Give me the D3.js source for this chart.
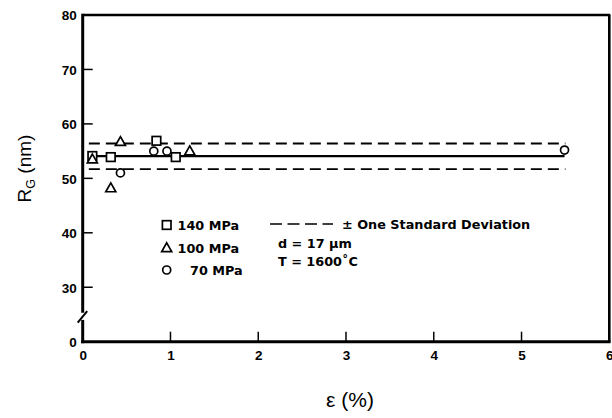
<!DOCTYPE html>
<html>
<head>
<meta charset="utf-8">
<script src="https://cdn.jsdelivr.net/npm/d3@7"></script>
<style>
  html, body { margin: 0; padding: 0; background: #fff; }
  svg { display: block; }
  text { font-family: "Liberation Sans", Arial, Helvetica, sans-serif; fill: #000; }
</style>
</head>
<body>
<svg id="chart" width="612" height="418"></svg>
<script>
// ---- data ----
const seriesNames = ["140 MPa", "100 MPa", "70 MPa"];
const seriesSymbols = ["square", "triangle", "circle"];
const strain140 = [0.11, 0.32, 0.84, 1.06];
const rg140     = [54.1, 53.9, 56.9, 53.9];
const strain100 = [0.11, 0.43, 0.32, 1.22];
const rg100     = [53.5, 56.7, 48.2, 55.0];
const strain70  = [0.43, 0.81, 0.96, 5.49];
const rg70      = [51.0, 55.0, 55.0, 55.2];
const meanRG = 54.1;
const sdUpper = 56.4;
const sdLower = 51.7;
const fitRange = [0.11, 5.49];
const sdRange = [0.07, 5.5];
const xTicks = [0, 1, 2, 3, 4, 5, 6];
const yTicks = [20, 30, 40, 50, 60, 70, 80];           // 20 sits at broken-axis origin
const yTickLabels = ["0", "30", "40", "50", "60", "70", "80"];
const legendNotes = ["± One Standard Deviation", "d = 17 µm", "T = 1600˚C"];

// ---- layout ----
const svg = d3.select("#chart");
const L = 82.7, R = 609.3, T = 15, B = 341.7;
const x = d3.scaleLinear().domain([0, 6]).range([L, R]);
const y = d3.scaleLinear().domain([20, 80]).range([B, T]);

// frame (top & right)
svg.append("line").attr("x1", L).attr("x2", R + 1).attr("y1", T).attr("y2", T)
  .attr("stroke", "#000").attr("stroke-width", 2.6);
svg.append("line").attr("x1", R).attr("x2", R).attr("y1", T).attr("y2", B)
  .attr("stroke", "#000").attr("stroke-width", 2.6);

// bottom axis
const xAxis = d3.axisBottom(x).tickValues(xTicks).tickSize(0).tickPadding(0)
  .tickFormat(d3.format("d"));
const gx = svg.append("g").attr("transform", `translate(0,${B})`).call(xAxis);
gx.select(".domain").remove();
gx.selectAll("text").attr("dy", 0).attr("y", 18.5)
  .style("font-size", "13.5px").style("font-weight", "bold")
  .style("font-family", "'Liberation Sans', Arial, sans-serif");
svg.append("line").attr("x1", L - 1.5).attr("x2", R + 1.3).attr("y1", B).attr("y2", B)
  .attr("stroke", "#000").attr("stroke-width", 3);
svg.selectAll(".xtick").data(xTicks.slice(1, -1)).enter().append("line")
  .attr("class", "xtick")
  .attr("x1", d => x(d)).attr("x2", d => x(d)).attr("y1", B).attr("y2", B - 10)
  .attr("stroke", "#000").attr("stroke-width", 1.5);

// left axis (broken between "0" and 30)
const yAxis = d3.axisLeft(y).tickValues(yTicks).tickSize(0).tickPadding(6)
  .tickFormat((d, i) => yTickLabels[i]);
const gy = svg.append("g").attr("transform", `translate(${L},0)`).call(yAxis);
gy.select(".domain").remove();
gy.selectAll("text").attr("dy", "0.36em")
  .style("font-size", "13.5px").style("font-weight", "bold")
  .style("font-family", "'Liberation Sans', Arial, sans-serif");
svg.append("line").attr("x1", L).attr("x2", L).attr("y1", T - 1.3).attr("y2", y(25.3))
  .attr("stroke", "#000").attr("stroke-width", 3);
svg.append("line").attr("x1", L).attr("x2", L).attr("y1", y(24.0)).attr("y2", B + 1.5)
  .attr("stroke", "#000").attr("stroke-width", 3);
svg.append("line").attr("x1", L - 5).attr("x2", L + 4.5).attr("y1", y(23.5)).attr("y2", y(25.6))
  .attr("stroke", "#000").attr("stroke-width", 2);
svg.selectAll(".ytick").data(yTicks.slice(1, -1)).enter().append("line")
  .attr("class", "ytick")
  .attr("x1", L).attr("x2", L + 10).attr("y1", d => y(d)).attr("y2", d => y(d))
  .attr("stroke", "#000").attr("stroke-width", 1.5);

// axis titles
const yl = svg.append("text")
  .attr("transform", `translate(31,${(133 + 204) / 2}) rotate(-90)`)
  .attr("text-anchor", "middle").style("font-size", "19px");
yl.append("tspan").text("R");
yl.append("tspan").text("G").attr("dy", 4).style("font-size", "12.5px");
yl.append("tspan").text(" (nm)").attr("dy", -4);
svg.append("text").attr("x", 350).attr("y", 407).attr("text-anchor", "middle")
  .style("font-size", "21px").text("ε (%)");

// SD dashed lines & mean line
const dashStyle = "11,6";
[sdUpper, sdLower].forEach(v => {
  svg.append("line").attr("x1", x(sdRange[0])).attr("x2", x(sdRange[1]))
    .attr("y1", y(v)).attr("y2", y(v))
    .attr("stroke", "#000").attr("stroke-width", 1.8).attr("stroke-dasharray", dashStyle);
});
svg.append("line").attr("x1", x(fitRange[0])).attr("x2", x(fitRange[1]))
  .attr("y1", y(meanRG)).attr("y2", y(meanRG))
  .attr("stroke", "#000").attr("stroke-width", 2.2);

// markers
function drawSymbol(g, type, cx, cy) {
  if (type === "square") {
    g.append("rect").attr("x", cx - 4.3).attr("y", cy - 4.3).attr("width", 8.6).attr("height", 8.6)
      .attr("fill", "#fff").attr("stroke", "#000").attr("stroke-width", 1.7);
  } else if (type === "triangle") {
    g.append("path").attr("d", `M${cx},${cy - 5.2}L${cx + 5},${cy + 3.6}L${cx - 5},${cy + 3.6}Z`)
      .attr("fill", "#fff").attr("stroke", "#000").attr("stroke-width", 1.7);
  } else {
    g.append("circle").attr("cx", cx).attr("cy", cy).attr("r", 4)
      .attr("fill", "#fff").attr("stroke", "#000").attr("stroke-width", 1.7);
  }
}
const allSeries = [[strain140, rg140], [strain100, rg100], [strain70, rg70]];
const gm = svg.append("g");
allSeries.forEach((s, si) => {
  s[0].forEach((xv, i) => drawSymbol(gm, seriesSymbols[si], x(xv), y(s[1][i])));
});

// legend
const lg = svg.append("g").style("font-size", "12.8px").style("font-weight", "bold")
  .style("font-family", "'DejaVu Sans', sans-serif");
const legY = [225, 248, 270];
seriesNames.forEach((n, i) => {
  drawSymbol(lg, seriesSymbols[i], 166.7, legY[i]);
  lg.append("text").attr("x", i === 2 ? 190 : 177.5).attr("y", legY[i] + 4.5)
    .style("font-family", "'DejaVu Sans', sans-serif").text(n);
});
lg.append("line").attr("x1", 270).attr("x2", 333).attr("y1", 224).attr("y2", 224)
  .attr("stroke", "#000").attr("stroke-width", 1.6).attr("stroke-dasharray", "12,5.5");
lg.selectAll(".note").data(legendNotes).enter().append("text")
  .attr("class", "note")
  .style("font-family", "'DejaVu Sans', sans-serif")
  .attr("x", (d, i) => i === 0 ? 342 : 278)
  .attr("y", (d, i) => [228.5, 247.5, 266][i])
  .text(d => d);
</script>
</body>
</html>
